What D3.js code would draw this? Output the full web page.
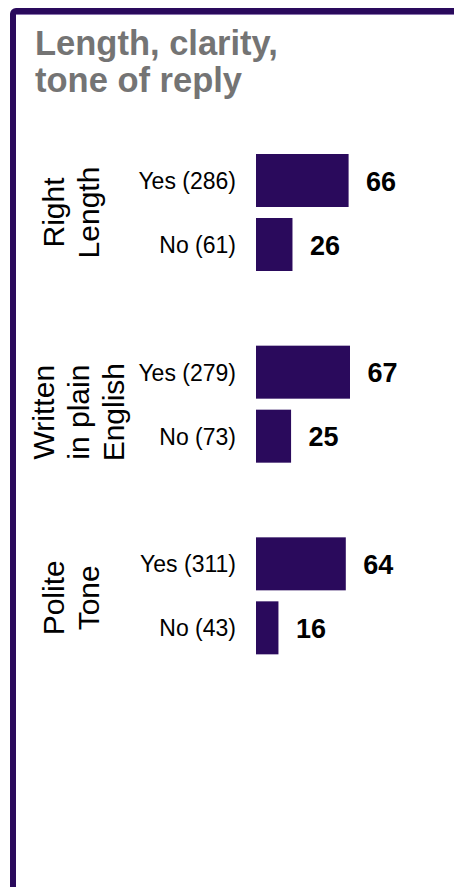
<!DOCTYPE html>
<html>
<head>
<meta charset="utf-8">
<script src="https://cdn.jsdelivr.net/npm/d3@7"></script>
<style>
  html, body { margin: 0; padding: 0; background: #ffffff; }
  svg { display: block; }
  text { font-family: "Liberation Sans", Arial, sans-serif; }
</style>
</head>
<body>
<svg id="chart" width="454" height="887"></svg>
<script>
// Survey results: share of respondents (%) per answer, by aspect of the reply
const groups = ["Right Length", "Written in plain English", "Polite Tone"];
const groupLines = [["Right", "Length"], ["Written", "in plain", "English"], ["Polite", "Tone"]];
const answers = ["Yes", "No"];
const counts = [[286, 61], [279, 73], [311, 43]];
const percents = [[66, 26], [67, 25], [64, 16]];
const titleLines = ["Length, clarity,", "tone of reply"];

const W = 454, H = 887;
const purple = "#2a0a5c";
const svg = d3.select("#chart");

// Panel frame: thick left and top edges running off the page
svg.append("rect")
  .attr("x", 13).attr("y", 11)
  .attr("width", W + 20).attr("height", H + 20)
  .attr("rx", 3)
  .attr("fill", "none")
  .attr("stroke", purple)
  .attr("stroke-width", 6);
svg.append("line")
  .attr("x1", 16).attr("x2", W)
  .attr("y1", 14.5).attr("y2", 14.5)
  .attr("stroke", "#8a74ad").attr("stroke-width", 1);

// Title
svg.append("text")
  .attr("font-weight", "bold")
  .attr("font-size", 34.5)
  .attr("fill", "#747474")
  .selectAll("tspan")
  .data(titleLines)
  .join("tspan")
  .attr("x", 35)
  .attr("y", (d, i) => 55 + i * 37)
  .text(d => d);

// Scales
const x = d3.scaleLinear().domain([0, 100]).range([256, 256 + 140.3]);
const yGroup = d3.scaleBand().domain(groups).range([154, 154 + 191.67 * 3]).padding(0);
const yAnswer = d3.scaleBand().domain(answers).range([0, 117]).paddingInner(11 / 64).paddingOuter(0);

const rows = [];
groups.forEach((g, gi) => {
  answers.forEach((a, ai) => {
    rows.push({ group: g, answer: a, count: counts[gi][ai], value: percents[gi][ai] });
  });
});

const rowY = d => yGroup(d.group) + yAnswer(d.answer);
const rowMid = d => rowY(d) + yAnswer.bandwidth() / 2;

// Bars
svg.append("g")
  .selectAll("rect")
  .data(rows)
  .join("rect")
  .attr("x", x(0))
  .attr("y", rowY)
  .attr("width", d => x(d.value) - x(0))
  .attr("height", yAnswer.bandwidth())
  .attr("fill", purple);

// Answer labels with respondent counts
svg.append("g")
  .attr("font-size", 23)
  .attr("fill", "#000000")
  .attr("text-anchor", "end")
  .selectAll("text")
  .data(rows)
  .join("text")
  .attr("x", 236)
  .attr("y", d => rowMid(d) + 8.5)
  .text(d => `${d.answer} (${d.count})`);

// Value labels
svg.append("g")
  .attr("font-size", 27)
  .attr("font-weight", "bold")
  .attr("fill", "#000000")
  .selectAll("text")
  .data(rows)
  .join("text")
  .attr("x", d => x(d.value) + 17.5)
  .attr("y", d => rowMid(d) + 10)
  .text(d => d.value);

// Rotated group labels (centre of each text block, relative to its bar pair)
const lineGap = 35;
const labelCentre = [[71, 0], [79, 8], [71, 2]];
const gl = svg.append("g")
  .attr("font-size", 30)
  .attr("fill", "#000000")
  .attr("text-anchor", "middle");

groups.forEach((g, gi) => {
  const [cx, dy] = labelCentre[gi];
  const cy = yGroup(g) + 117 / 2 + dy;
  const lines = groupLines[gi];
  const n = lines.length;
  const t = gl.append("text")
    .attr("transform", `translate(${cx},${cy}) rotate(-90)`);
  t.selectAll("tspan")
    .data(lines)
    .join("tspan")
    .attr("x", 0)
    .attr("y", (d, i) => (i - (n - 1) / 2) * lineGap + 10)
    .text(d => d);
});
</script>
</body>
</html>
